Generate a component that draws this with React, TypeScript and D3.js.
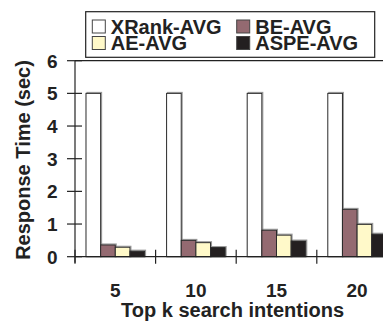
import React, { useEffect, useRef } from 'react';
import * as d3 from 'd3';

const categories = ['5', '10', '15', '20'];
const seriesNames = ['XRank-AVG', 'BE-AVG', 'AE-AVG', 'ASPE-AVG'];
const xrankAvg = [5, 5, 5, 5];
const beAvg = [0.36, 0.5, 0.81, 1.45];
const aeAvg = [0.29, 0.43, 0.66, 0.99];
const aspeAvg = [0.17, 0.28, 0.48, 0.69];
const yTicks = [0, 1, 2, 3, 4, 5, 6];
const colors = ['#ffffff', '#946a71', '#fff9c9', '#231f20'];

const W = 383;
const H = 322;
const font = '"Liberation Sans", Arial, Helvetica, sans-serif';

export default function App() {
  const ref = useRef<SVGSVGElement>(null);

  useEffect(() => {
    const svg = d3.select(ref.current);
    svg.selectAll('*').remove();

    const values = [xrankAvg, beAvg, aeAvg, aspeAvg];
    const data = categories.map((c, i) => ({
      cat: c,
      vals: seriesNames.map((s, j) => ({ name: s, v: values[j][i], color: colors[j] })),
    }));

    const left = 75;
    const right = 397.4;
    const top = 60.7;
    const bottom = 256.7;

    const x0 = d3.scaleBand().domain(categories).range([left, right]).padding(0);
    const x1 = d3.scaleBand().domain(seriesNames).range([0, x0.bandwidth()])
      .paddingInner(0).paddingOuter(0.75);
    const y = d3.scaleLinear().domain([0, 6]).range([bottom, top]);

    // bars
    const groups = svg.append('g').selectAll('g').data(data).enter().append('g')
      .attr('transform', d => `translate(${x0(d.cat)},0)`);

    // soft shadow on right edge
    groups.selectAll('rect.shadow').data(d => d.vals).enter().append('rect')
      .attr('class', 'shadow')
      .attr('x', d => x1(d.name)! + 1)
      .attr('y', d => y(d.v) - 1)
      .attr('width', x1.bandwidth())
      .attr('height', d => bottom - y(d.v) + 1)
      .attr('fill', 'none')
      .attr('stroke', '#999')
      .attr('stroke-width', 1);

    groups.selectAll('rect.bar').data(d => d.vals).enter().append('rect')
      .attr('class', 'bar')
      .attr('x', d => x1(d.name)!)
      .attr('y', d => y(d.v))
      .attr('width', x1.bandwidth())
      .attr('height', d => bottom - y(d.v))
      .attr('fill', d => d.color)
      .attr('stroke', '#2a2a2a')
      .attr('stroke-width', 1);

    // top frame line
    svg.append('line')
      .attr('x1', left).attr('x2', W).attr('y1', top).attr('y2', top)
      .attr('stroke', '#222').attr('stroke-width', 1.2);

    // y axis
    const yAxis = svg.append('g').attr('transform', `translate(${left},0)`);
    yAxis.append('line').attr('x1', 0).attr('x2', 0).attr('y1', top).attr('y2', bottom + 6)
      .attr('stroke', '#222').attr('stroke-width', 1.2);
    yAxis.selectAll('line.tick').data(yTicks).enter().append('line')
      .attr('class', 'tick')
      .attr('x1', -8).attr('x2', 7)
      .attr('y1', d => y(d)).attr('y2', d => y(d))
      .attr('stroke', '#222').attr('stroke-width', 1.2);
    yAxis.selectAll('text').data(yTicks).enter().append('text')
      .attr('x', -17.5).attr('y', d => y(d)).attr('dy', '0.36em')
      .attr('text-anchor', 'end')
      .attr('font-family', font).attr('font-weight', 'bold').attr('font-size', 19)
      .attr('fill', '#222')
      .text(d => d);

    // x axis
    svg.append('line').attr('x1', left).attr('x2', W).attr('y1', bottom).attr('y2', bottom)
      .attr('stroke', '#222').attr('stroke-width', 1.2);
    const boundaries = categories.map(c => x0(c)!);
    svg.selectAll('line.xtick').data(boundaries).enter().append('line')
      .attr('class', 'xtick')
      .attr('x1', d => d).attr('x2', d => d)
      .attr('y1', bottom - 7).attr('y2', bottom + 7)
      .attr('stroke', '#222').attr('stroke-width', 1.2);
    svg.selectAll('text.xlabel').data(categories).enter().append('text')
      .attr('class', 'xlabel')
      .attr('x', d => x0(d)! + x0.bandwidth() / 2)
      .attr('y', 296.7)
      .attr('text-anchor', 'middle')
      .attr('font-family', font).attr('font-weight', 'bold').attr('font-size', 19)
      .attr('fill', '#222')
      .text(d => d);

    // axis titles
    svg.append('text')
      .attr('x', 232.5).attr('y', 316.5)
      .attr('text-anchor', 'middle')
      .attr('font-family', font).attr('font-weight', 'bold').attr('font-size', 20)
      .attr('fill', '#222')
      .text('Top k search intentions');
    svg.append('text')
      .attr('transform', 'translate(30,160) rotate(-90)')
      .attr('text-anchor', 'middle')
      .attr('font-family', font).attr('font-weight', 'bold').attr('font-size', 20)
      .attr('fill', '#222')
      .text('Response Time (sec)');

    // legend
    const legend = svg.append('g');
    legend.append('rect')
      .attr('x', 85.7).attr('y', 11.7).attr('width', 289).attr('height', 45.6)
      .attr('fill', '#fff').attr('stroke', '#222').attr('stroke-width', 1.2);
    const cols = [92.3, 236.7];
    const rows = [33.5, 50];
    const order = [0, 1, 2, 3];
    const items = legend.selectAll('g.item').data(order).enter().append('g')
      .attr('class', 'item')
      .attr('transform', i => `translate(${cols[i % 2]},${rows[Math.floor(i / 2)]})`);
    items.append('rect')
      .attr('x', 0).attr('y', -13.5).attr('width', 13).attr('height', 13)
      .attr('fill', i => colors[i]).attr('stroke', '#444').attr('stroke-width', 1);
    items.append('text')
      .attr('x', 18.5).attr('y', 0)
      .attr('font-family', font).attr('font-weight', 'bold').attr('font-size', 20)
      .attr('fill', '#222')
      .text(i => seriesNames[i]);
  }, []);

  return (
    <svg ref={ref} width={W} height={H}
      style={{ position: 'absolute', left: 0, top: 0, background: '#fff' }} />
  );
}
